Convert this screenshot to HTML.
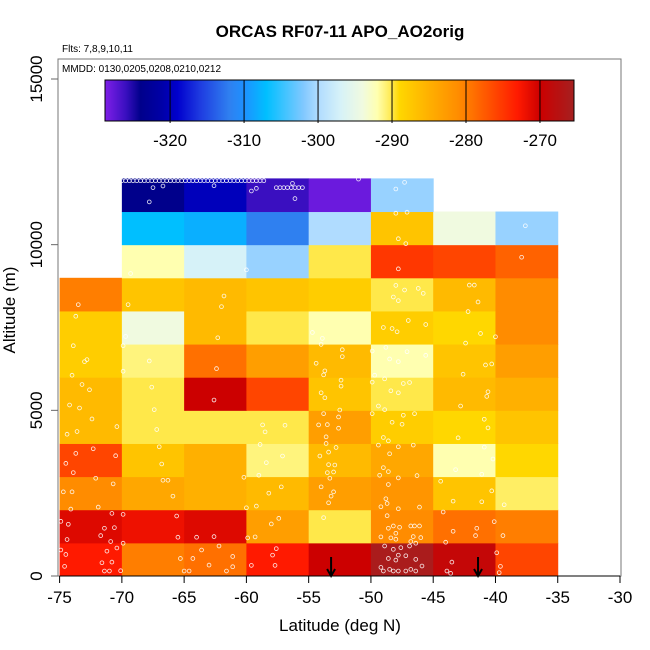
<!DOCTYPE html>
<html><head><meta charset="utf-8"><style>
html,body{margin:0;padding:0;background:#fff}
svg{display:block;font-family:"Liberation Sans",sans-serif}
</style></head><body>
<svg id="chart" width="650" height="650" viewBox="0 0 650 650" xmlns="http://www.w3.org/2000/svg">
<text x="340" y="37" text-anchor="middle" font-size="17" font-weight="bold">ORCAS RF07-11 APO_AO2orig</text>
<text x="62" y="52" font-size="10">Flts: 7,8,9,10,11</text>
<rect x="58" y="59" width="563" height="517" fill="none" stroke="#777" stroke-width="1"/>
<text x="62" y="72" font-size="10">MMDD: 0130,0205,0208,0210,0212</text>
<g id="cells"></g>
<g id="pts"></g>
<g id="arrows"></g>
<g id="cbar"></g>
<g id="axes"></g>
<text x="340" y="631" text-anchor="middle" font-size="17">Latitude (deg N)</text>
<text x="15" y="310" text-anchor="middle" font-size="17" transform="rotate(-90 15 310)">Altitude (m)</text>
</svg>
<script>
const latEdges=[-75,-70,-65,-60,-55,-50,-45,-40,-35];
const altStep=1000;
// rows bottom (0-1000m) to top (11000-12000m); null = empty
const cellValues=[
[-273,-280,-279,-273,-270,-266,-269,-276],
[-271,-272,-271,-283,-290,-281,-279,-280],
[-281,-284,-285,-286,-283,-282,-287,-290.5],
[-276,-287,-285,-291,-286,-284,-292,-289],
[-286,-290,-290,-290,-283,-288,-289,-287],
[-286,-290,-270,-276,-287,-290,-286,-285],
[-288,-291,-279,-283,-286,-292,-287,-283],
[-288,-294,-286,-290,-292,-288,-289,-281],
[-280,-287,-286,-287,-288,-290,-286,-281],
[null,-292,-297,-301,-290,-275,-276,-278],
[null,-307,-308,-312,-300,-287,-294,-301],
[null,-324,-320,-326,-328,-301,null,null]
];
const xTicks=[-75,-70,-65,-60,-55,-50,-45,-40,-35,-30];
const yTicks=[0,5000,10000,15000];
const cbTicks=[-320,-310,-300,-290,-280,-270];
const arrowLats=[-53.2,-41.4];
const trackLats=[-70.0,-69.7,-69.4,-69.1,-68.8,-68.5,-68.2,-67.9,-67.6,-67.3,-67.0,-66.7,-66.4,-66.1,-65.8,-65.5,-65.2,-64.9,-64.6,-64.3,-64.0,-63.7,-63.4,-63.1,-62.8,-62.5,-62.2,-61.9,-61.6,-61.3,-61.0,-60.7,-60.4,-60.1,-59.8,-59.5,-59.2,-58.9,-58.6];
const trackAlt=11930;
const trackLats2=[-57.6,-57.3,-57.0,-56.7,-56.4,-56.1,-55.8,-55.5];
const trackAlt2=11720;
const points=[[-73.5,8190],[-73.7,7840],[-73.9,6950],[-73.0,6470],[-72.8,6530],[-74.0,6060],[-73.2,5780],[-72.6,5620],[-74.2,5160],[-73.4,5070],[-72.4,4740],[-73.6,4360],[-74.4,4280],[-70.4,4510],[-72.3,3840],[-73.7,3700],[-74.5,3400],[-70.5,3630],[-73.9,3120],[-72.1,2950],[-74.7,2540],[-74.0,2540],[-70.7,2780],[-74.1,2020],[-71.9,2080],[-70.8,1890],[-74.9,1650],[-74.3,1560],[-71.4,1440],[-70.6,1460],[-71.7,1220],[-74.4,1100],[-70.9,1040],[-74.9,785],[-74.5,650],[-71.2,750],[-70.4,845],[-71.6,400],[-70.8,420],[-74.6,290],[-71.4,150],[-71.0,150],[-70.1,160],
[-69.5,8190],[-69.7,7230],[-69.9,6950],[-67.8,6490],[-69.9,6180],[-67.6,5700],[-67.4,5020],[-67.2,4420],[-67.0,3900],[-66.8,3380],[-66.7,2890],[-66.3,2890],[-65.9,2410],[-69.9,1860],[-65.6,1810],[-65.5,1170],[-69.9,990],[-69.3,9130],[-67.8,11290],[-67.5,11720],[-66.7,11770],[-65.3,530],[-65.0,150],
[-61.8,8450],[-62.0,8130],[-62.3,7190],[-62.4,6260],[-62.6,5310],[-64.3,530],[-63.6,785],[-62.2,905],[-61.1,590],[-61.1,280],[-63.0,330],[-64.0,1170],[-62.6,1190],[-64.6,150],[-61.6,150],[-62.6,11780],[-59.6,11620],[-59.2,11700],[-60.0,9240],
[-58.7,4560],[-58.5,4350],[-56.9,4550],[-58.9,3970],[-57.1,3620],[-58.4,3420],[-60.2,2980],[-59.0,3040],[-57.2,2690],[-58.2,2500],[-59.2,2110],[-60.0,2060],[-57.4,1740],[-58.0,1570],[-59.9,1150],[-59.3,1180],[-57.6,825],[-57.9,630],[-59.6,320],[-57.7,320],[-56.1,11390],[-56.3,11850],
[-54.7,7350],[-53.9,7170],[-54.0,6990],[-52.3,6830],[-52.3,6620],[-54.4,6420],[-53.7,6190],[-53.8,6070],[-52.4,5910],[-52.4,5730],[-54.0,5530],[-53.7,5380],[-52.5,5010],[-53.8,4900],[-52.6,4800],[-54.2,4560],[-53.5,4570],[-52.6,4460],[-53.6,4200],[-53.6,4000],[-52.8,3880],[-53.4,3740],[-54.1,3620],[-53.4,3360],[-52.9,3350],[-53.0,3140],[-53.5,3120],[-53.3,2950],[-54.0,2690],[-53.0,2540],[-53.2,2410],[-53.4,2210],[-53.8,1760],[-51.0,11980],
[-47.3,11880],[-48.0,11680],[-48.0,10950],[-47.1,10980],[-47.8,10180],[-47.2,10030],[-47.8,9270],[-48.0,8770],[-47.3,8630],[-46.2,8680],[-48.2,8420],[-47.8,8310],[-45.8,8530],[-49.0,7500],[-48.3,7470],[-47.0,7710],[-45.6,7590],[-47.9,7370],[-49.9,6790],[-48.8,6900],[-47.1,6770],[-48.5,6550],[-47.8,6470],[-45.6,6660],[-49.7,6060],[-48.9,5950],[-49.9,5850],[-47.4,5810],[-46.9,5840],[-48.4,5590],[-47.8,5530],[-49.4,5130],[-48.9,5020],[-49.9,4900],[-47.4,4850],[-46.5,4900],[-48.3,4640],[-47.5,4580],[-49.0,4180],[-48.6,4080],[-49.4,3950],[-47.8,3900],[-46.6,3950],[-48.5,3690],[-49.0,3270],[-48.6,3150],[-49.3,3040],[-47.8,2960],[-46.3,3030],[-48.6,2760],[-48.8,2330],[-48.7,2190],[-49.2,2090],[-47.8,2030],[-46.1,2080],[-48.7,1820],[-48.2,1510],[-47.7,1470],[-48.6,1440],[-46.8,1510],[-46.5,1510],[-46.1,1510],[-48.0,1290],[-46.6,1190],[-46.0,1160],[-49.2,1180],[-48.4,1150],[-48.0,1110],[-46.8,1040],[-46.4,990],[-48.9,905],[-48.2,805],[-47.6,855],[-46.9,905],[-47.8,630],[-47.2,610],[-48.6,530],[-48.0,480],[-46.4,500],[-45.9,300],[-49.2,260],[-48.5,200],[-48.2,150],[-49.0,150],[-47.2,150],[-46.8,200],[-46.4,150],[-47.8,150],
[-42.1,8780],[-41.7,8780],[-41.4,8270],[-42.2,7980],[-41.2,7320],[-42.4,7030],[-40.0,7220],[-40.8,6370],[-40.3,6400],[-42.6,6090],[-40.6,5560],[-40.7,5420],[-42.8,5130],[-40.9,4730],[-40.6,4470],[-43.0,4170],[-40.9,3890],[-40.2,3530],[-43.2,3210],[-41.1,3070],[-44.4,2860],[-43.4,2260],[-41.1,2240],[-44.2,1930],[-43.4,1350],[-41.5,1440],[-41.6,1220],[-44.0,1020],[-43.5,420],[-43.9,150],[-43.6,80],
[-37.6,10570],[-37.9,9620],[-40.1,1640],[-40.3,2570],[-39.3,2150],[-39.4,1220],[-39.9,700],[-39.6,290],[-39.7,100]];
const cmapVals=[-328.8,-326,-324,-321,-319,-316,-312,-310,-307,-302,-300,-297,-294,-292,-290,-289,-285,-281,-279,-276,-273,-270,-265.4];
const cmapCols=["#7f1fe8","#3a0fc0","#00008b","#0000a8","#0000cd","#1e3ae0","#2f80f0","#1e90ff","#00bfff","#80c8ff","#b0dcff","#d6f2f8","#f0fae0","#ffffb0","#ffe84a","#ffd700","#ffb000","#ff8c00","#ff7000","#ff4500","#ff1a00","#cc0000","#a52020"];

const NS="http://www.w3.org/2000/svg";
const X0=59.6,X1=620,LAT0=-75,LAT1=-30,Y0=576,Y15=79;
const sx=v=>X0+(v-LAT0)*(X1-X0)/(LAT1-LAT0);
const sy=v=>Y0+(v/15000)*(Y15-Y0);
const CB0=105,CB1=574,CBV0=-328.8,CBV1=-265.4,CBT=80,CBB=121;
const cbx=v=>CB0+(v-CBV0)*(CB1-CB0)/(CBV1-CBV0);
function hex(c){return [1,3,5].map(i=>parseInt(c.substr(i,2),16));}
function color(v){
  if(v<=cmapVals[0])return cmapCols[0];
  for(let i=1;i<cmapVals.length;i++){
    if(v<=cmapVals[i]){
      const t=(v-cmapVals[i-1])/(cmapVals[i]-cmapVals[i-1]);
      const a=hex(cmapCols[i-1]),b=hex(cmapCols[i]);
      return "rgb("+a.map((q,k)=>Math.round(q+(b[k]-q)*t)).join(",")+")";
    }
  }
  return cmapCols[cmapCols.length-1];
}
function mk(tag,attrs,parent){const e=document.createElementNS(NS,tag);for(const k in attrs)e.setAttribute(k,attrs[k]);parent.appendChild(e);return e;}

const cells=document.getElementById('cells');
cellValues.forEach((row,r)=>{
  row.forEach((v,c)=>{
    if(v===null)return;
    const x=sx(latEdges[c]),x2=sx(latEdges[c+1]);
    const y=sy((r+1)*altStep),y2=sy(r*altStep);
    const e=mk('rect',{x:x,y:y,width:x2-x+0.5,height:y2-y+0.5,fill:color(v)},cells);
    
    
  });
});

const pts=document.getElementById('pts');
function dot(lat,alt){
  const e=mk('circle',{cx:sx(lat),cy:sy(alt),r:1.9,fill:'none',stroke:'#fff','stroke-width':0.8,opacity:0.9},pts);
  
  
}
trackLats.forEach(l=>dot(l,trackAlt));
trackLats2.forEach(l=>dot(l,trackAlt2));
points.forEach(p=>dot(p[0],p[1]));

const arrows=document.getElementById('arrows');
arrowLats.forEach(l=>{
  const x=sx(l);
  const g=mk('g',{},arrows);
  
  
  mk('line',{x1:x,y1:557,x2:x,y2:576,stroke:'#000','stroke-width':2},g);
  mk('polyline',{points:(x-4)+",569 "+x+",576 "+(x+4)+",569",fill:'none',stroke:'#000','stroke-width':2},g);
});

const cb=document.getElementById('cbar');
for(let px=CB0;px<CB1;px+=1){
  const v=CBV0+(px+0.5-CB0)*(CBV1-CBV0)/(CB1-CB0);
  mk('rect',{x:px,y:CBT,width:1.2,height:CBB-CBT,fill:color(v)},cb);
}
mk('rect',{x:CB0,y:CBT,width:CB1-CB0,height:CBB-CBT,fill:'none',stroke:'#000','stroke-width':1},cb);
cbTicks.forEach(t=>{
  const x=cbx(t);
  mk('line',{x1:x,y1:CBT,x2:x,y2:CBB+2,stroke:'#000','stroke-width':1},cb);
  const e=mk('text',{x:x,y:146,'text-anchor':'middle','font-size':17},cb);
  e.textContent=t;
  
  
});

const ax=document.getElementById('axes');
mk('line',{x1:sx(-75),y1:576,x2:sx(-30),y2:576,stroke:'#000','stroke-width':1},ax);
xTicks.forEach(t=>{
  const x=sx(t);
  mk('line',{x1:x,y1:576,x2:x,y2:583,stroke:'#000','stroke-width':1},ax);
  const e=mk('text',{x:x,y:603,'text-anchor':'middle','font-size':17},ax);
  e.textContent=t;
  
  
});
yTicks.forEach(t=>{
  const y=sy(t);
  mk('line',{x1:51,y1:y,x2:58,y2:y,stroke:'#666','stroke-width':1},ax);
  const e=mk('text',{x:42,y:y,'text-anchor':'middle','font-size':17,transform:'rotate(-90 42 '+y+')'},ax);
  e.textContent=t;
  
  
});
</script>
</body></html>
